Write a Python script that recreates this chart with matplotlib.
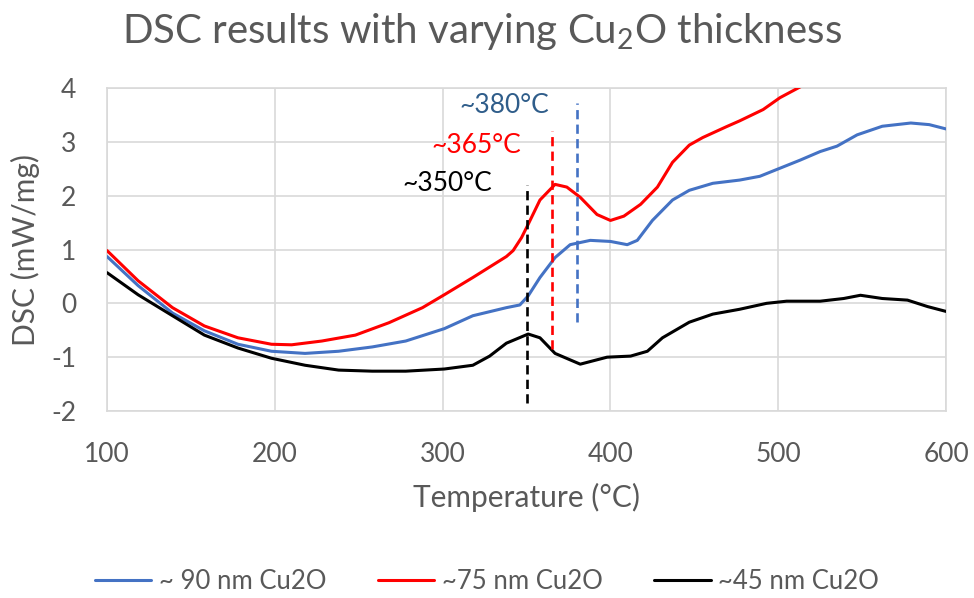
import matplotlib

matplotlib.use("Agg")
import matplotlib.pyplot as plt

plt.rcParams["font.family"] = ["Lato", "DejaVu Sans"]
plt.rcParams["mathtext.fontset"] = "custom"
plt.rcParams["mathtext.rm"] = "Lato"
plt.rcParams["mathtext.default"] = "regular"
plt.rcParams["axes.unicode_minus"] = False

GREY_TEXT = "#595959"
GRID = "#D9D9D9"

# DSC traces (temperature in °C, heat flow in mW/mg)
temp_90 = [100, 118.5, 139, 158, 178, 198, 218, 238, 258, 278, 301, 318, 338, 346, 351,
           358, 367, 376, 388, 400, 410, 416, 425, 437, 447, 461, 477, 489, 501, 513,
           525, 535, 547, 562, 579, 590, 600]
dsc_90 = [0.87, 0.33, -0.18, -0.51, -0.76, -0.89, -0.93, -0.89, -0.81, -0.70, -0.47,
          -0.23, -0.08, -0.03, 0.14, 0.48, 0.85, 1.09, 1.17, 1.15, 1.09, 1.17, 1.54, 1.92,
          2.10, 2.23, 2.29, 2.36, 2.51, 2.66, 2.82, 2.92, 3.13, 3.29, 3.35, 3.32, 3.24]

temp_75 = [100, 118.5, 139, 158, 178, 198, 210, 228, 248, 268, 288, 301, 318, 338, 342,
           347, 351, 358, 367, 374, 382, 392, 400, 408, 418, 428, 437, 447, 455, 469,
           477, 491, 501, 513, 520]
dsc_75 = [0.98, 0.42, -0.08, -0.42, -0.64, -0.76, -0.77, -0.70, -0.59, -0.36, -0.08,
          0.16, 0.48, 0.87, 0.98, 1.22, 1.47, 1.92, 2.21, 2.16, 1.97, 1.65, 1.54, 1.62,
          1.84, 2.16, 2.62, 2.94, 3.08, 3.28, 3.39, 3.60, 3.82, 4.02, 4.15]

temp_45 = [100, 118.5, 139, 158, 178, 198, 218, 238, 258, 278, 301, 318, 328, 338, 351,
           358, 367, 382, 398, 412, 422, 431, 447, 461, 477, 493, 505, 525, 539, 549,
           562, 577, 589, 600]
dsc_45 = [0.57, 0.16, -0.23, -0.59, -0.83, -1.02, -1.15, -1.24, -1.26, -1.26, -1.22,
          -1.15, -0.98, -0.74, -0.57, -0.64, -0.93, -1.13, -1.00, -0.98, -0.89, -0.64,
          -0.35, -0.20, -0.11, 0.00, 0.04, 0.04, 0.09, 0.15, 0.09, 0.06, -0.06, -0.15]

series_labels = ["~ 90 nm Cu2O", "~75 nm Cu2O", "~45 nm Cu2O"]
series_colors = ["#4472C4", "#FF0000", "#000000"]

# peak markers: temperature, dashed-line extent, label position
peak_temps = [350, 365, 380]
peak_low = [-1.85, -0.85, -0.35]
peak_high = [2.2, 3.2, 3.72]
peak_colors = ["#000000", "#FF0000", "#4472C4"]
peak_texts = ["~350°C", "~365°C", "~380°C"]
peak_text_colors = ["#000000", "#FF0000", "#2F5D8A"]
peak_text_x = [303, 320, 337]
peak_text_y = [2.22, 2.94, 3.67]

fig = plt.figure(figsize=(9.74, 5.98), dpi=100)
ax = fig.add_axes([0.1099, 0.3127, 0.8614, 0.5401])

curves = [(temp_90, dsc_90), (temp_75, dsc_75), (temp_45, dsc_45)]
handles = []
for (xs, ys), label, color in zip(curves, series_labels, series_colors):
    (line,) = ax.plot(xs, ys, color=color, lw=2.2, label=label, solid_capstyle="round",
                      solid_joinstyle="round", zorder=3)
    handles.append(line)

for t, lo, hi, c in zip(peak_temps, peak_low, peak_high, peak_colors):
    ax.plot([t, t], [lo, hi], color=c, lw=1.9, dashes=(3.5, 2.0), zorder=4)

for t, x, y, c in zip(peak_texts, peak_text_x, peak_text_y, peak_text_colors):
    ax.text(x, y, t, color=c, fontsize=19, ha="center", va="center", zorder=5)

ax.set_xlim(100, 600)
ax.set_ylim(-2, 4)
ax.set_xticks(range(100, 601, 100))
ax.set_yticks(range(-2, 5))
ax.grid(True, color=GRID, lw=1.2)
ax.set_axisbelow(True)
for spine in ax.spines.values():
    spine.set_color(GRID)
    spine.set_linewidth(1.2)
ax.tick_params(length=0, labelsize=19, colors=GREY_TEXT)
ax.tick_params(axis="x", pad=22)
ax.tick_params(axis="y", pad=22)

ax.set_xlabel("Temperature (°C)", fontsize=21.5, color=GREY_TEXT, labelpad=12)
ax.set_ylabel("DSC (mW/mg)", fontsize=21.5, color=GREY_TEXT, labelpad=8)

fig.text(0.495, 0.948, "DSC results with varying Cu$_2$O thickness", fontsize=29,
         color=GREY_TEXT, ha="center", va="center")

fig.legend(handles=handles, loc="center", bbox_to_anchor=(0.500, 0.028), ncol=3,
           frameon=False, fontsize=18.5, handlelength=2.2, handletextpad=0.3,
           columnspacing=2.0, labelcolor=GREY_TEXT)

fig.savefig("out.png", dpi=100)
